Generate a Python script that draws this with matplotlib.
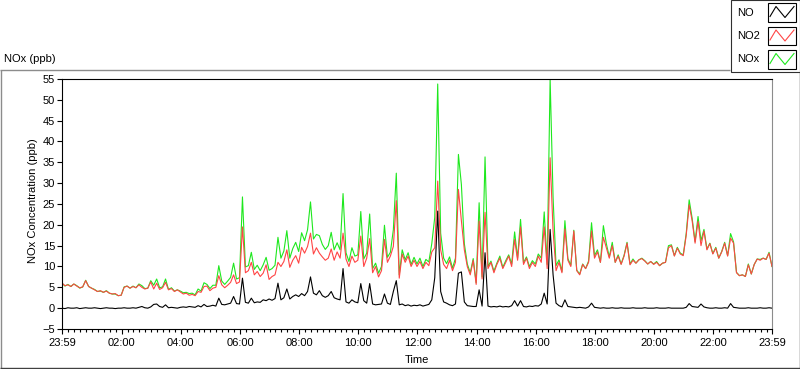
import numpy as np
import matplotlib
matplotlib.use("Agg")
import matplotlib.pyplot as plt
from matplotlib.lines import Line2D
from matplotlib.patches import Rectangle

plt.rcParams['font.family'] = ['Liberation Sans', 'DejaVu Sans']

# ---------------- data (hours after 23:59, every 0.1 h) ----------------
no2 = [
    6.0, 5.4, 5.6, 5.2, 5.8, 5.3, 4.9, 5.1, 6.6, 5.2,
    4.8, 4.4, 4.0, 4.2, 3.8, 4.1, 3.6, 3.4, 3.5, 3.0,
    3.1, 5.0, 5.3, 4.8, 5.2, 4.9, 5.6, 5.0, 4.6, 4.8,
    6.3, 4.6, 6.0, 4.5, 4.9, 6.2, 4.4, 4.7, 4.0, 4.4,
    3.9, 3.4, 3.6, 3.1, 3.3, 3.0, 4.0, 3.8, 5.2, 5.3,
    4.2, 4.8, 5.0, 7.8, 5.6, 4.9, 5.5, 6.2, 8.0, 5.9,
    6.3, 19.5, 8.5, 9.0, 11.0, 8.0, 8.8, 7.6, 8.4, 10.4,
    6.9, 7.6, 8.0, 11.0, 10.0, 11.2, 14.0, 9.8, 11.5, 12.6,
    10.8, 14.6, 13.2, 14.8, 18.0, 13.0, 14.5, 13.2, 12.3, 11.5,
    12.0, 14.2, 11.5, 13.5, 12.0, 18.0, 11.8, 10.0, 12.5, 11.0,
    11.5, 17.3, 10.0, 12.0, 16.7, 8.5, 10.0, 7.5, 9.0, 16.5,
    11.0, 12.5, 14.8, 25.8, 7.2, 13.0, 11.0, 12.5, 10.0, 11.5,
    10.0, 11.2, 9.5, 11.0, 10.2, 13.5, 14.5, 30.5, 14.0, 10.5,
    9.5, 11.5, 9.0, 11.0, 28.5, 21.0, 14.0, 10.0, 8.0, 11.5,
    5.7, 20.9, 7.0, 23.0, 9.5, 11.0, 8.5, 10.5, 12.0, 9.5,
    11.0, 12.5, 10.0, 16.5, 11.5, 19.5, 10.5, 12.0, 9.5, 11.0,
    10.0, 12.5, 11.0, 19.5, 9.5, 36.1, 18.5, 9.0, 11.0, 8.5,
    19.0, 11.5, 10.0, 18.5, 9.0, 8.0, 10.5, 9.5, 11.0, 18.5,
    12.0, 13.5, 11.0, 17.0, 14.5, 12.0, 15.0, 11.0, 12.5, 10.5,
    12.5, 15.6, 10.4, 11.5, 10.8, 11.6, 11.9, 11.3, 10.6, 11.2,
    10.5, 11.0, 10.2, 10.8, 11.0, 14.5, 15.0, 12.5, 14.4, 13.0,
    12.6, 17.5, 24.8, 21.0, 15.6, 20.8, 15.0, 18.5, 14.0, 15.5,
    13.0, 14.4, 12.0, 13.5, 15.6, 12.5, 16.8, 15.6, 8.5, 7.8,
    8.0, 7.6, 10.4, 8.2, 10.5, 11.8, 11.5, 12.0, 11.7, 13.2,
    10.0,
]

no = [
    0.0, -0.1, 0.1, 0.0, 0.0, 0.1, -0.1, 0.0, 0.1, 0.0,
    0.0, 0.1, 0.0, -0.1, 0.0, 0.1, 0.0, 0.0, -0.1, 0.0,
    0.0, 0.1, 0.0, 0.0, 0.1, 0.0, 0.2, 0.4, 0.1, 0.0,
    0.3, 0.9, 1.0, 0.4, 0.2, 0.8, 0.1, 0.2, 0.1, 0.0,
    0.2, 0.3, 0.2, 0.4, 0.3, 0.2, 0.6, 0.3, 0.9, 0.4,
    0.5, 0.7, 0.5, 2.4, 0.9, 0.8, 1.0, 1.2, 2.8, 1.1,
    1.0, 7.2, 1.4, 1.2, 2.4, 1.3, 1.5, 1.4, 2.0, 1.8,
    2.2, 1.9, 2.3, 6.0, 2.0, 2.5, 4.6, 2.2, 2.8, 3.2,
    2.8, 3.5, 3.0, 4.0, 7.5, 3.6, 3.2, 4.2, 3.0, 2.6,
    3.0, 4.0, 2.5, 2.2, 2.0, 9.5, 1.5, 1.2, 2.0, 1.5,
    1.3, 5.9, 1.8, 1.2, 5.9, 1.0, 0.8, 0.9, 1.0, 3.4,
    1.2, 0.9, 4.0, 6.6, 0.8, 1.0, 0.6, 0.8, 0.5, 0.7,
    0.6, 0.8, 0.5, 0.7, 0.9, 2.0, 7.3, 23.3, 4.0, 1.5,
    1.2, 0.8, 0.6, 1.0, 8.4, 8.7, 1.5, 0.6, 0.5, 0.4,
    0.4, 4.4, 0.5, 13.3, 0.5, 0.3, 0.4, 0.3, 0.5, 0.3,
    0.4, 0.3, 0.6, 1.8, 0.5, 1.8, 0.4, 0.3, 0.5, 0.4,
    0.6, 0.5, 1.0, 3.6, 1.0, 18.9, 8.0, 1.2, 0.6, 0.3,
    2.0, 0.4, 0.3, 0.2, 0.1, 0.2, 0.1, 0.0, 0.3, 1.2,
    0.2, 0.1, 0.0, 0.1, 0.0, 0.0, 0.1, 0.0, 0.0, 0.1,
    0.0, 0.0, 0.0, 0.1, 0.0, 0.0, 0.0, 0.1, 0.0, 0.0,
    0.0, 0.1, 0.0, 0.0, 0.0, 0.1, 0.0, 0.0, 0.0, 0.0,
    0.0, 0.2, 1.1, 0.4, 0.3, 0.2, 1.0, 0.3, 0.1, 0.0,
    0.0, 0.1, 0.0, 0.0, 0.1, 0.0, 1.1, 0.2, 0.1, 0.0,
    0.0, 0.0, 0.1, 0.0, 0.0, 0.0, 0.1, 0.0, 0.0, 0.1,
    0.0,
]

nox = [
    6.0, 5.3, 5.7, 5.2, 5.8, 5.4, 4.8, 5.1, 6.7, 5.2,
    4.8, 4.5, 4.0, 4.1, 3.8, 4.2, 3.6, 3.4, 3.4, 3.0,
    3.1, 5.1, 5.3, 4.8, 5.3, 4.9, 5.8, 5.4, 4.7, 4.8,
    6.6, 5.5, 7.0, 4.9, 5.1, 7.0, 4.5, 4.9, 4.1, 4.4,
    4.1, 3.7, 3.8, 3.5, 3.6, 3.2, 4.6, 4.1, 6.1, 5.7,
    4.7, 5.5, 5.5, 10.2, 6.5, 5.7, 6.5, 7.4, 10.8, 7.0,
    7.3, 26.7, 9.9, 10.2, 13.4, 9.3, 10.3, 9.0, 10.4, 12.2,
    9.1, 9.5, 10.3, 17.0, 12.0, 13.7, 18.6, 12.0, 14.3, 15.8,
    13.6, 18.1, 16.2, 18.8, 25.5, 16.6, 17.7, 17.4, 15.3, 14.1,
    15.0, 18.2, 14.0, 15.7, 14.0, 27.5, 13.3, 11.2, 14.5, 12.5,
    12.8, 23.2, 11.8, 13.2, 22.6, 9.5, 10.8, 8.4, 10.0, 19.9,
    12.2, 13.4, 18.8, 32.4, 8.0, 14.0, 11.6, 13.3, 10.5, 12.2,
    10.6, 12.0, 10.0, 11.7, 11.1, 15.5, 21.8, 53.8, 18.0, 12.0,
    10.7, 12.3, 9.6, 12.0, 36.9, 29.7, 15.5, 10.6, 8.5, 11.9,
    6.1, 25.3, 7.5, 36.3, 10.0, 11.3, 8.9, 10.8, 12.5, 9.8,
    11.4, 12.8, 10.6, 18.3, 12.0, 21.3, 10.9, 12.3, 10.0, 11.4,
    10.6, 13.0, 12.0, 23.1, 10.5, 55.0, 26.5, 10.2, 11.6, 8.8,
    21.0, 11.9, 10.3, 18.7, 9.1, 8.2, 10.6, 9.5, 11.3, 20.5,
    12.6, 14.0, 11.0, 19.8, 15.5, 12.3, 15.8, 11.0, 12.8, 10.6,
    12.7, 15.8, 10.6, 11.8, 10.8, 11.6, 12.0, 11.4, 10.6, 11.2,
    10.6, 11.2, 10.2, 10.8, 11.0, 15.0, 15.2, 12.6, 14.6, 13.2,
    12.8, 17.9, 26.0, 21.6, 16.0, 22.0, 16.2, 18.9, 14.2, 15.6,
    13.1, 14.6, 12.0, 13.6, 15.8, 12.6, 17.9, 15.9, 8.6, 7.8,
    8.0, 7.6, 10.6, 8.2, 10.5, 11.8, 11.7, 12.0, 11.7, 13.4,
    10.0,
]

x_tick_labels = ['23:59', '02:00', '04:00', '06:00', '08:00', '10:00', '12:00',
                 '14:00', '16:00', '18:00', '20:00', '22:00', '23:59']
series_names = ['NO', 'NO2', 'NOx']
series_colors = ['#000000', '#ff4545', '#1ee81e']

hours = np.arange(len(no2)) * 0.1

# ---------------- layout helpers (pixel -> figure coords) ----------------
W, H = 800, 369
def fx(x):
    return x / W
def fy(y):
    return 1 - y / H

fig = plt.figure(figsize=(8, 3.69), dpi=100)
ax = fig.add_axes([fx(62), fy(329), fx(772) - fx(62), fy(79) - fy(329)])

lw = 0.8
ax.plot(hours, nox, color=series_colors[2], lw=lw)
ax.plot(hours, no2, color=series_colors[1], lw=lw)
ax.plot(hours, no, color=series_colors[0], lw=lw)

ax.set_xlim(0, 24)
ax.set_ylim(-5, 55)

major = [0] + [2 * k + 1 / 60 for k in range(1, 12)] + [24]
ax.set_xticks(major)
ax.set_xticklabels(x_tick_labels)
minor = [m for m in np.arange(1 / 60, 24, 0.2) if all(abs(m - M) > 0.05 for M in major)]
ax.set_xticks(minor, minor=True)
ax.set_yticks(np.arange(-5, 56, 5))

ax.tick_params(axis='both', which='major', length=3.5, width=0.8, labelsize=8,
               color='black', direction='out')
ax.tick_params(axis='x', which='minor', length=2.2, width=0.8, color='black')
ax.tick_params(axis='x', which='major', pad=3)
ax.tick_params(axis='y', which='major', pad=1.5)

for s in ['left', 'bottom', 'top']:
    ax.spines[s].set_color('black')
    ax.spines[s].set_linewidth(0.8)
ax.spines['right'].set_color('#8c8c8c')
ax.spines['right'].set_linewidth(0.8)

ax.set_xlabel('Time', fontsize=8)
ax.xaxis.set_label_coords(0.5, -0.105)
ax.set_ylabel('NOx Concentration (ppb)', fontsize=8)
ax.yaxis.set_label_coords(-0.034, 0.515)

# ---------------- outer frame ----------------
def fline(x0, y0, x1, y1, color, lw_=1.0):
    fig.add_artist(Line2D([fx(x0), fx(x1)], [fy(y0), fy(y1)], color=color,
                          lw=lw_, transform=fig.transFigure, solid_capstyle='butt'))

fline(0, 69.5, 730, 69.5, '#8c8c8c')
fline(0.5, 69.5, 0.5, 368, '#8c8c8c')
fline(0, 367.5, 800, 367.5, '#404040')
fline(799.5, 71.5, 799.5, 368, '#404040')

fig.text(fx(4), fy(62), 'NOx (ppb)', fontsize=8, ha='left', va='baseline')

# ---------------- legend ----------------
fig.add_artist(Rectangle((fx(730.5), fy(71.5)), fx(799.5) - fx(730.5), fy(0.5) - fy(71.5),
                         transform=fig.transFigure, facecolor='white',
                         edgecolor='#303030', lw=0.8))
rows_y = [12.5, 36, 59.5]
for name, col, yc in zip(series_names, series_colors, rows_y):
    fig.text(fx(737), fy(yc), name, fontsize=8, ha='left', va='center')
    bx0, bx1 = 768, 796
    by0, by1 = yc - 9.5, yc + 9
    fig.add_artist(Rectangle((fx(bx0), fy(by1)), fx(bx1) - fx(bx0), fy(by0) - fy(by1),
                             transform=fig.transFigure, facecolor='white',
                             edgecolor='black', lw=0.8))
    zx = [770, 776, 785, 794]
    zy = [yc + 4, yc - 6, yc + 5, yc - 6]
    fig.add_artist(Line2D([fx(v) for v in zx], [fy(v) for v in zy], color=col,
                          lw=0.8, transform=fig.transFigure))

fig.savefig('out.png', dpi=100)
